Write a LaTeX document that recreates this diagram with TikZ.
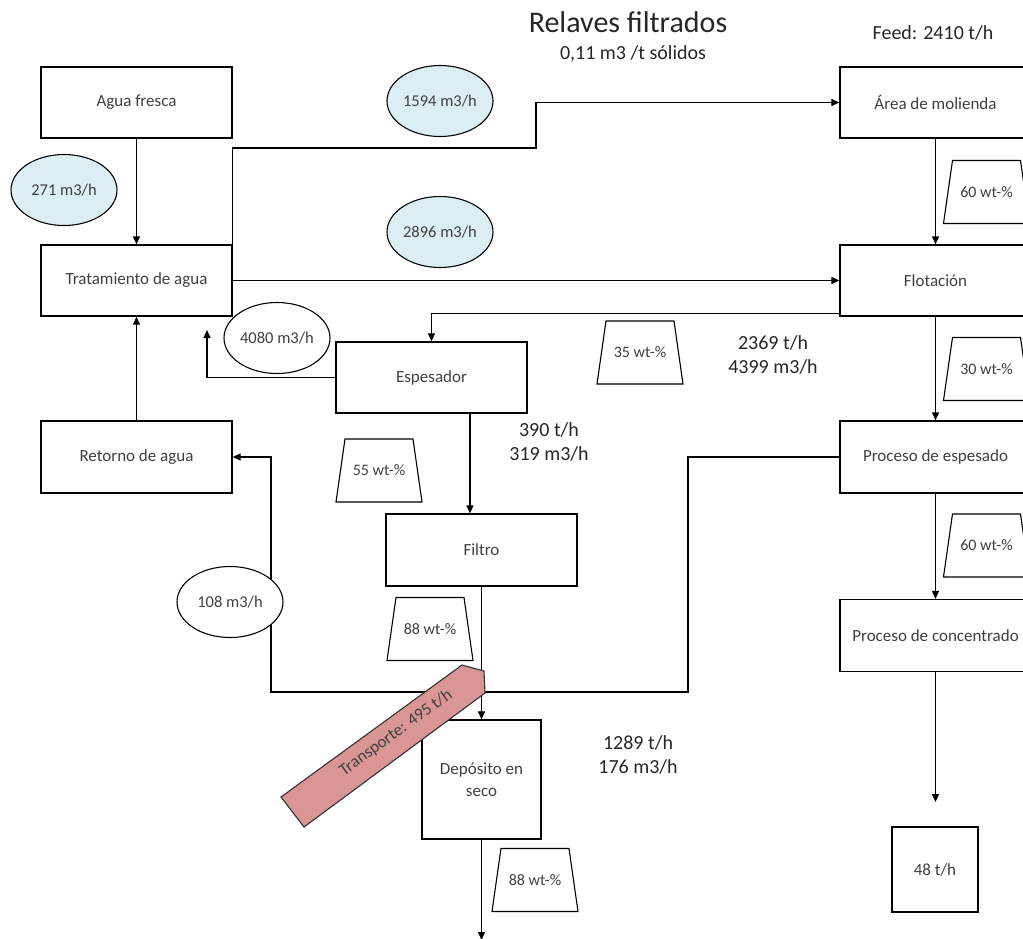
\documentclass[tikz,border=0pt]{standalone}
\usepackage{fontspec}
\setmainfont{Carlito}
\usetikzlibrary{arrows.meta,shapes.geometric,calc}
\definecolor{flowblue}{HTML}{DAEEF3}
\definecolor{beltred}{HTML}{D99694}
\definecolor{boxtext}{HTML}{404040}

% solids-content tag: a trapezoid, wider at its base, with a named text node
\newcommand\solidstag[3]{%
  \draw[solidline] ($(#2)+(-43,31.5)$) -- ($(#2)+(-34,-31.5)$)
    -- ($(#2)+(34,-31.5)$) -- ($(#2)+(43,31.5)$) -- cycle;
  \node[solidtxt] (#1) at (#2) {#3};}

\begin{document}
\begin{tikzpicture}[x=1pt,y=-1pt,
  unit/.style={draw=black, line width=1.3pt, rectangle, minimum width=191pt,
    minimum height=71pt, inner sep=2pt, fill=white,
    font=\fontsize{17}{21.5}\selectfont, text=boxtext, align=center},
  rate/.style={ellipse, draw=black, line width=1.1pt, minimum width=106pt,
    minimum height=71pt, inner sep=0pt, fill=white,
    font=\fontsize{16.5}{19}\selectfont, text=boxtext},
  water/.style={rate, fill=flowblue},
  solidline/.style={draw=black, line width=1.1pt, fill=white},
  solidtxt/.style={inner sep=0pt, font=\fontsize{16}{19}\selectfont, text=boxtext},
  flux/.style={font=\fontsize{20}{24}\selectfont, align=center, text=black!85},
  flow/.style={draw=black, line width=1.2pt, -{Triangle[length=8pt,width=7pt]}}
]
\useasboundingbox (0,0) rectangle (1023,938);
\clip (0,0) rectangle (1023,938);

% headings
\node[font=\fontsize{30}{34}\selectfont, text=black!85] (title) at (628,22) {Relaves filtrados};
\node[font=\fontsize{20}{24}\selectfont, text=black!85] (ratio) at (633,54) {0,11 m3 /t sólidos};
\node[font=\fontsize{20}{24}\selectfont, text=black!85] (feed) at (933,33) {Feed: 2410 t/h};

% water circuit (left)
\node[unit] (agua) at (136.5,102.5) {Agua fresca};
\node[unit] (trat) at (136.5,280.5) {Tratamiento de agua};
\node[unit, minimum height=72pt] (retorno) at (136.5,457) {Retorno de agua};
\node[unit] (esp) at (431.5,377.5) {Espesador};
\node[unit, minimum height=72pt] (filtro) at (481.5,550) {Filtro};
\node[unit, minimum width=119pt, minimum height=119pt] (deposito) at (481.5,779.5) {Depósito en\\seco};

% process line (right)
\node[unit] (molienda) at (935.5,102.5) {Área de molienda};
\node[unit] (flot) at (935.5,280.5) {Flotación};
\node[unit, minimum height=72pt] (pesp) at (935.5,457) {Proceso de espesado};
\node[unit, minimum height=72pt] (pconc) at (935.5,635.5) {Proceso de concentrado};
\node[unit, minimum width=86pt, minimum height=85pt] (conc) at (935,869.5) {48 t/h};

% free ends and junctions
\coordinate (retin) at (207,330);
\coordinate (jr) at (688,692);
\coordinate (jl) at (271,692);
\coordinate (concout) at (935.5,802);
\coordinate (depout) at (481.5,940);
\coordinate (espout) at ($(esp.south west)!0.70!(esp.south east)$);

% connectors
\draw[flow] (agua.south) -- (trat.north);
\draw[flow] (trat.north east) |- (536,148) |- (molienda.west);
\draw[flow] (trat.east) -- (flot.west);
\draw[flow] ($(flot.south west)+(0,-3.5)$) -| (esp.north);
\draw[flow] (esp.west) -| (retin);
\draw[flow] (retorno.north) -- (trat.south);
\draw[flow] (espout) -- (espout |- filtro.north);
\draw[flow] (filtro.south) -- (deposito.north);
\draw[flow] (pesp.west) -| (jr) -- (jl) |- (retorno.east);
\draw[flow] (molienda.south) -- (flot.north);
\draw[flow] (flot.south) -- (pesp.north);
\draw[flow] (pesp.south) -- (pconc.north);
\draw[flow] (pconc.south) -- (concout);
\draw[flow] (deposito.south) -- (depout);

% volumetric flows
\node[water] (q1594) at (440,101) {1594 m3/h};
\node[water] (q2896) at (440,232) {2896 m3/h};
\node[water] (q271) at (64,190) {271 m3/h};
\node[rate] (q4080) at (277,338) {4080 m3/h};
\node[rate] (q108) at (230,602) {108 m3/h};

% solids content
\solidstag{w1}{986.5,192}{60 wt-\%}
\solidstag{w2}{986.5,369}{30 wt-\%}
\solidstag{w3}{986.5,545.5}{60 wt-\%}
\solidstag{w35}{640,352.5}{35 wt-\%}
\solidstag{w55}{379,470.5}{55 wt-\%}
\solidstag{w88a}{430,629}{88 wt-\%}
\solidstag{w88b}{535,880}{88 wt-\%}

% mass flows
\node[flux] (m2369) at (773,355) {2369 t/h\\4399 m3/h};
\node[flux] (m390) at (549,442) {390 t/h\\319 m3/h};
\node[flux] (m1289) at (638,755) {1289 t/h\\176 m3/h};

% conveyor
\draw[fill=beltred, draw=black!80, line width=1.1pt]
  (281,797) -- (462,665) -- (484,671) -- (485,693) -- (304,827) -- cycle;
\node[rotate=36, font=\fontsize{17}{20}\selectfont, text=black!75] (belt) at (396,733) {Transporte: 495 t/h};
\end{tikzpicture}
\end{document}
